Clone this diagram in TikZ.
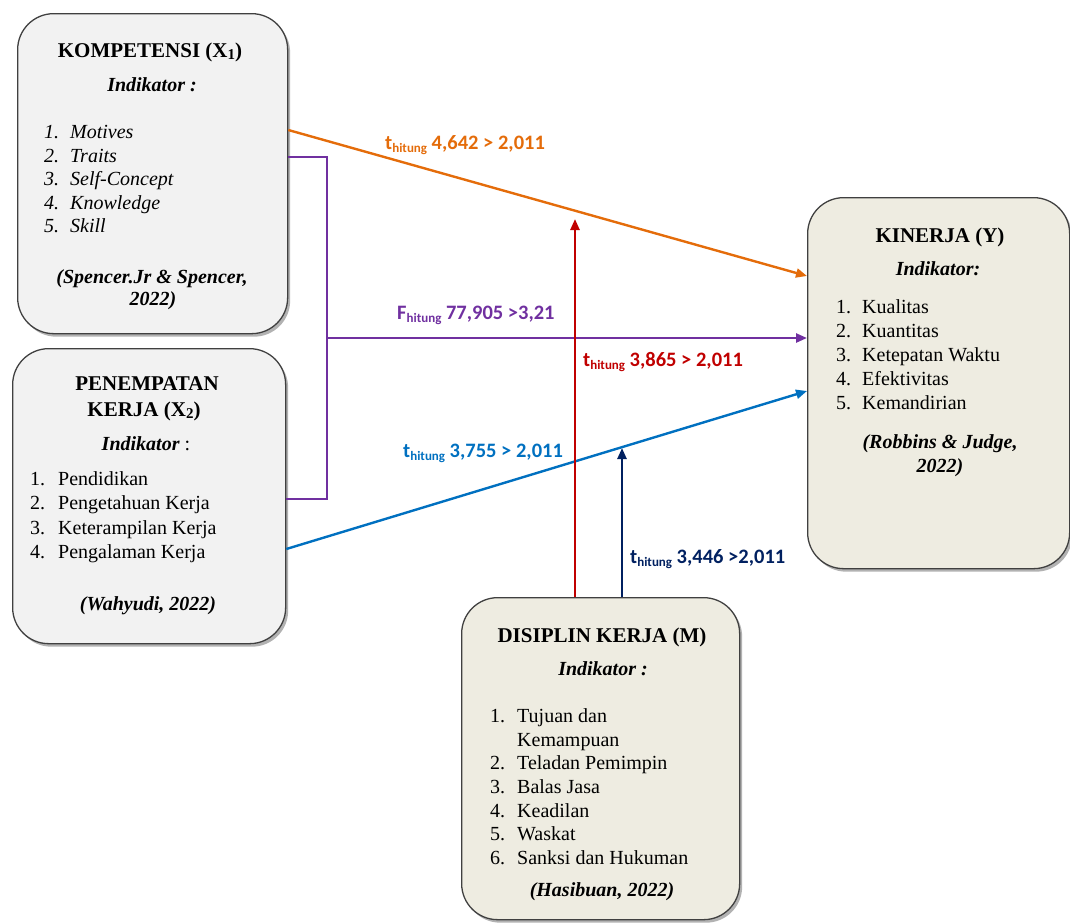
\documentclass[tikz,border=0pt]{standalone}
\usepackage{fontspec}
\setmainfont{Liberation Serif}
\newfontfamily\lblfont{Carlito}
\usetikzlibrary{shadows,arrows.meta}
\definecolor{cOrange}{HTML}{E46C0A}
\definecolor{cPurple}{HTML}{7030A0}
\definecolor{cBlue}{HTML}{0070C0}
\definecolor{cRed}{HTML}{C00000}
\definecolor{cNavy}{HTML}{002060}
\definecolor{boxgray}{HTML}{F2F2F2}
\definecolor{boxbeige}{HTML}{EEECE1}
\newcommand\subnum[1]{\raisebox{-0.25ex}{\fontsize{15}{15}\selectfont #1}}
\newcommand\hit{\raisebox{-3.5pt}{\fontsize{13}{13}\selectfont hitung}}
\newcommand\nm[2]{\makebox[#1][l]{#2}}
\begin{document}
\begin{tikzpicture}[x=1pt,y=-1pt,
  box/.style={draw=black!75,line width=1.3pt,rounded corners=36pt,
    drop shadow={shadow xshift=2.5pt,shadow yshift=-3pt,fill=black,opacity=0.3},
    anchor=north west,inner sep=0pt},
  graybox/.style={box,fill=boxgray},
  beigebox/.style={box,fill=boxbeige},
  ttl/.style={font=\fontsize{21}{24}\selectfont\bfseries,anchor=base,inner sep=0pt},
  ind/.style={font=\fontsize{20}{24}\selectfont\bfseries\itshape,anchor=base,inner sep=0pt},
  itm/.style={font=\fontsize{20}{24}\selectfont,anchor=base west,inner sep=0pt},
  itmi/.style={font=\fontsize{20}{24}\selectfont\itshape,anchor=base west,inner sep=0pt},
  cite/.style={font=\fontsize{20}{24}\selectfont\bfseries\itshape,anchor=base,inner sep=0pt},
  lbl/.style={font=\lblfont\fontsize{20.5}{24}\selectfont\bfseries,anchor=base west,inner sep=0pt},
  conn/.style={line width=2.4pt,-{Triangle[length=11pt,width=9pt]}},
  plain/.style={line width=2.4pt}
]
\useasboundingbox (0,0) rectangle (1070,922);

% boxes
\node[graybox,minimum width=270pt,minimum height=320pt] (k1) at (17,13) {};
\node[graybox,minimum width=273pt,minimum height=295pt] (k2) at (12,348) {};
\node[beigebox,minimum width=262pt,minimum height=371pt] (k3) at (807,197) {};
\node[beigebox,minimum width=278pt,minimum height=322pt] (m) at (461,597) {};

% box 1 text
\node[ttl] (k1t) at (150,57) {KOMPETENSI (X\subnum{1})};
\node[ind] (k1i) at (152,91) {Indikator :};
\node[itmi] (k1a) at (44,138) {\nm{26pt}{1.}Motives};
\node[itmi] (k1b) at (44,162) {\nm{26pt}{2.}Traits};
\node[itmi] (k1c) at (44,185) {\nm{26pt}{3.}Self-Concept};
\node[itmi] (k1d) at (44,209) {\nm{26pt}{4.}Knowledge};
\node[itmi] (k1e) at (44,232) {\nm{26pt}{5.}Skill};
\node[cite] (k1s) at (152,283) {(Spencer.Jr \& Spencer,};
\node[cite] (k1y) at (153,305) {2022)};

% box 2 text
\node[ttl] (k2t) at (147,390) {PENEMPATAN};
\node[ttl] (k2u) at (144,416) {KERJA (X\subnum{2})};
\node[ind] (k2i) at (146,450) {Indikator\textup{\mdseries\ :}};
\node[itm] (k2a) at (30,485) {\nm{28pt}{1.}Pendidikan};
\node[itm] (k2b) at (30,509) {\nm{28pt}{2.}Pengetahuan Kerja};
\node[itm] (k2c) at (30,534) {\nm{28pt}{3.}Keterampilan Kerja};
\node[itm] (k2d) at (30,558) {\nm{28pt}{4.}Pengalaman Kerja};
\node[cite] (k2s) at (148,610) {(Wahyudi, 2022)};

% box 3 text
\node[ttl] (k3t) at (940,242) {KINERJA (Y)};
\node[ind] (k3i) at (938,275) {Indikator:};
\node[itm] (k3a) at (836,313) {\nm{26pt}{1.}Kualitas};
\node[itm] (k3b) at (836,337) {\nm{26pt}{2.}Kuantitas};
\node[itm] (k3c) at (836,361) {\nm{26pt}{3.}Ketepatan Waktu};
\node[itm] (k3d) at (836,385) {\nm{26pt}{4.}Efektivitas};
\node[itm] (k3e) at (836,409) {\nm{26pt}{5.}Kemandirian};
\node[cite] (k3s) at (940,448) {(Robbins \& Judge,};
\node[cite] (k3y) at (940,472) {2022)};

% box 4 text
\node[ttl] (mt) at (602,642) {DISIPLIN KERJA (M)};
\node[ind] (mi) at (603,675) {Indikator :};
\node[itm] (ma) at (490,722) {\nm{27pt}{1.}Tujuan dan};
\node[itm] (ma2) at (490,746) {\nm{27pt}{}Kemampuan};
\node[itm] (mb) at (490,769) {\nm{27pt}{2.}Teladan Pemimpin};
\node[itm] (mc) at (490,793) {\nm{27pt}{3.}Balas Jasa};
\node[itm] (md) at (490,817) {\nm{27pt}{4.}Keadilan};
\node[itm] (me) at (490,840) {\nm{27pt}{5.}Waskat};
\node[itm] (mf) at (490,864) {\nm{27pt}{6.}Sanksi dan Hukuman};
\node[cite] (ms) at (602,896) {(Hasibuan, 2022)};

% connectors
\coordinate (pj) at (327,338);
\coordinate (redEnd) at (575,219);
\coordinate (navyEnd) at (622,448);
\draw[conn,cOrange] (k1.east |- 0,130) -- (k3.west |- 0,276);
\draw[plain,cPurple] (k1.east |- 0,157) -| (pj) |- (k2.east |- 0,499);
\draw[conn,cPurple] (pj) -- (k3.west |- 0,338);
\draw[conn,cBlue] (k2.east |- 0,549) -- (k3.west |- 0,391);
\draw[conn,cRed] (m.north -| redEnd) -- (redEnd);
\draw[conn,cNavy] (m.north -| navyEnd) -- (navyEnd);

% labels
\node[lbl,text=cOrange] (lo) at (385,149) {t\hit\ 4,642 > 2,011};
\node[lbl,text=cPurple] (lp) at (397,319) {F\hit\ 77,905 >3,21};
\node[lbl,text=cRed] (lr) at (583,366) {t\hit\ 3,865 > 2,011};
\node[lbl,text=cBlue] (lb) at (403,457) {t\hit\ 3,755 > 2,011};
\node[lbl,text=cNavy] (ln) at (630,563) {t\hit\ 3,446 >2,011};
\end{tikzpicture}
\end{document}
